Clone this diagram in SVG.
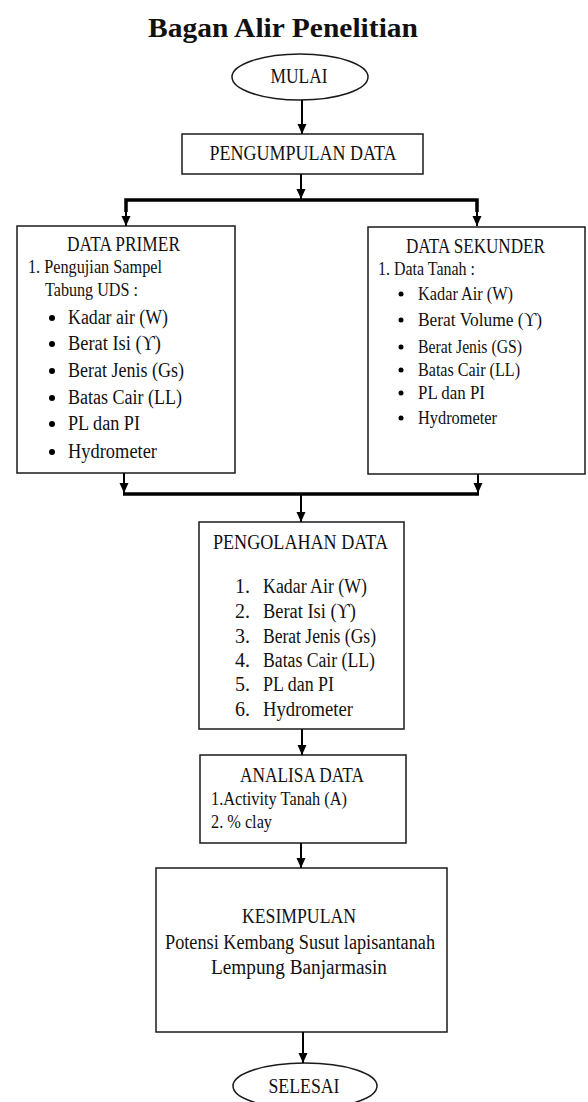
<svg xmlns="http://www.w3.org/2000/svg" width="588" height="1102" viewBox="0 0 588 1102">
<style>
.box{fill:#fff;stroke:#1a1a1a;stroke-width:1.5}
.h{font-family:"Liberation Serif","Times New Roman",serif;fill:#111;font-size:20px}
.i{font-family:"Liberation Serif","Times New Roman",serif;fill:#111;font-size:20px}
.k{font-family:"Liberation Serif","Times New Roman",serif;fill:#111;font-size:18px}
.c{text-anchor:middle}
.ln{stroke:#000;stroke-width:2;fill:none}
.bus{stroke:#000;stroke-width:3.5;fill:none}
</style>
<defs>
<marker id="a" markerUnits="userSpaceOnUse" markerWidth="10" markerHeight="12" viewBox="0 0 10 12" refX="10" refY="5" orient="auto">
<path d="M0,0.5 L10,5 L0,9.5 Z" fill="#000"/>
</marker>
</defs>

<text class="h c" x="283" y="37" style="font-size:28px;font-weight:bold" textLength="270" lengthAdjust="spacingAndGlyphs">Bagan Alir Penelitian</text>

<g id="mulai">
<ellipse class="box" cx="300" cy="77" rx="68" ry="23"/>
<text class="h c" x="299" y="83" textLength="57" lengthAdjust="spacingAndGlyphs">MULAI</text>
</g>

<g id="pengumpulan">
<rect class="box" x="182" y="134" width="241" height="40"/>
<text class="h c" x="303" y="160" textLength="187" lengthAdjust="spacingAndGlyphs">PENGUMPULAN DATA</text>
</g>

<g id="primer">
<rect class="box" x="17" y="226" width="218" height="247"/>
<text class="h c" x="123.5" y="251" textLength="113" lengthAdjust="spacingAndGlyphs">DATA PRIMER</text>
<text class="k" x="28" y="273" textLength="134" lengthAdjust="spacingAndGlyphs">1. Pengujian Sampel</text>
<text class="k" x="45" y="296" textLength="93" lengthAdjust="spacingAndGlyphs">Tabung UDS :</text>
<g fill="#000"><circle cx="52" cy="318" r="3"/><circle cx="52" cy="344" r="3"/><circle cx="52" cy="371" r="3"/><circle cx="52" cy="398" r="3"/><circle cx="52" cy="424" r="3"/><circle cx="52" cy="452" r="3"/></g>
<text class="i" x="68" y="324" textLength="100" lengthAdjust="spacingAndGlyphs">Kadar air (W)</text>
<text class="i" x="68" y="350" textLength="93" lengthAdjust="spacingAndGlyphs">Berat Isi (ϒ)</text>
<text class="i" x="68" y="377" textLength="116" lengthAdjust="spacingAndGlyphs">Berat Jenis (Gs)</text>
<text class="i" x="68" y="404" textLength="114" lengthAdjust="spacingAndGlyphs">Batas Cair (LL)</text>
<text class="i" x="68" y="430" textLength="72" lengthAdjust="spacingAndGlyphs">PL dan PI</text>
<text class="i" x="68" y="458" textLength="89" lengthAdjust="spacingAndGlyphs">Hydrometer</text>
</g>

<g id="sekunder">
<rect class="box" x="368" y="227" width="217" height="247"/>
<text class="h c" x="475.5" y="253" textLength="139" lengthAdjust="spacingAndGlyphs">DATA SEKUNDER</text>
<text class="k" x="378" y="275" textLength="97" lengthAdjust="spacingAndGlyphs">1. Data Tanah :</text>
<g fill="#000"><circle cx="401" cy="294" r="2.5"/><circle cx="401" cy="320" r="2.5"/><circle cx="401" cy="347" r="2.5"/><circle cx="401" cy="370" r="2.5"/><circle cx="401" cy="393" r="2.5"/><circle cx="401" cy="418" r="2.5"/></g>
<text class="k" x="418" y="300" textLength="95" lengthAdjust="spacingAndGlyphs">Kadar Air (W)</text>
<text class="k" x="418" y="326" textLength="124" lengthAdjust="spacingAndGlyphs">Berat Volume (ϒ)</text>
<text class="k" x="418" y="353" textLength="104" lengthAdjust="spacingAndGlyphs">Berat Jenis (GS)</text>
<text class="k" x="418" y="376" textLength="102" lengthAdjust="spacingAndGlyphs">Batas Cair (LL)</text>
<text class="k" x="418" y="399" textLength="67" lengthAdjust="spacingAndGlyphs">PL dan PI</text>
<text class="k" x="418" y="424" textLength="79" lengthAdjust="spacingAndGlyphs">Hydrometer</text>
</g>

<g id="pengolahan">
<rect class="box" x="199" y="522" width="205" height="207"/>
<text class="h c" x="300.5" y="549" textLength="175" lengthAdjust="spacingAndGlyphs">PENGOLAHAN DATA</text>
<text class="i" x="235" y="593">1.</text>
<text class="i" x="235" y="618">2.</text>
<text class="i" x="235" y="643">3.</text>
<text class="i" x="235" y="667">4.</text>
<text class="i" x="235" y="691">5.</text>
<text class="i" x="235" y="716">6.</text>
<text class="i" x="263" y="593" textLength="104" lengthAdjust="spacingAndGlyphs">Kadar Air (W)</text>
<text class="i" x="263" y="618" textLength="93" lengthAdjust="spacingAndGlyphs">Berat Isi (ϒ)</text>
<text class="i" x="263" y="643" textLength="113" lengthAdjust="spacingAndGlyphs">Berat Jenis (Gs)</text>
<text class="i" x="263" y="667" textLength="112" lengthAdjust="spacingAndGlyphs">Batas Cair (LL)</text>
<text class="i" x="263" y="691" textLength="71" lengthAdjust="spacingAndGlyphs">PL dan PI</text>
<text class="i" x="263" y="716" textLength="90" lengthAdjust="spacingAndGlyphs">Hydrometer</text>
</g>

<g id="analisa">
<rect class="box" x="200" y="755" width="206" height="88"/>
<text class="h c" x="302" y="782" textLength="124" lengthAdjust="spacingAndGlyphs">ANALISA DATA</text>
<text class="k" x="211" y="805" textLength="136" lengthAdjust="spacingAndGlyphs">1.Activity Tanah (A)</text>
<text class="k" x="211" y="828" textLength="61" lengthAdjust="spacingAndGlyphs">2. % clay</text>
</g>

<g id="kesimpulan">
<rect class="box" x="156" y="868" width="291" height="164"/>
<text class="h c" x="299" y="923" textLength="114" lengthAdjust="spacingAndGlyphs">KESIMPULAN</text>
<text class="h c" x="300" y="949" textLength="270" lengthAdjust="spacingAndGlyphs">Potensi Kembang Susut lapisantanah</text>
<text class="h c" x="299" y="974" textLength="176" lengthAdjust="spacingAndGlyphs">Lempung Banjarmasin</text>
</g>

<g id="selesai">
<ellipse class="box" cx="305" cy="1086" rx="72" ry="23"/>
<text class="h c" x="304" y="1093" textLength="71" lengthAdjust="spacingAndGlyphs">SELESAI</text>
</g>

<g id="connectors">
<line class="ln" x1="302" y1="100" x2="302" y2="134" marker-end="url(#a)"/>
<line class="ln" x1="301" y1="174" x2="301" y2="199" marker-end="url(#a)"/>
<polyline class="bus" points="126,212 126,200 477,200 477,212"/>
<line class="ln" x1="126" y1="205" x2="126" y2="226" marker-end="url(#a)"/>
<line class="ln" x1="477" y1="205" x2="477" y2="226" marker-end="url(#a)"/>
<line class="ln" x1="124" y1="473" x2="124" y2="493" marker-end="url(#a)"/>
<line class="ln" x1="478" y1="474" x2="478" y2="493" marker-end="url(#a)"/>
<line class="bus" x1="123" y1="494" x2="479" y2="494"/>
<line class="ln" x1="301" y1="494" x2="301" y2="522" marker-end="url(#a)"/>
<line class="ln" x1="302" y1="729" x2="302" y2="755" marker-end="url(#a)"/>
<line class="ln" x1="301" y1="843" x2="301" y2="868" marker-end="url(#a)"/>
<line class="ln" x1="303" y1="1032" x2="303" y2="1063" marker-end="url(#a)"/>
</g>
</svg>
